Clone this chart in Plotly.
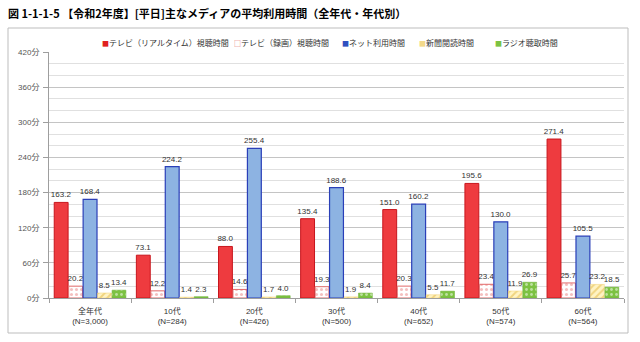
import plotly.graph_objects as go

# Categories (age groups with sample sizes)
categories = ["全年代<br>(N=3,000)", "10代<br>(N=284)", "20代<br>(N=426)", "30代<br>(N=500)",
              "40代<br>(N=652)", "50代<br>(N=574)", "60代<br>(N=564)"]

# Average minutes per weekday
tv_realtime = [163.2, 73.1, 88.0, 135.4, 151.0, 195.6, 271.4]
tv_recorded = [20.2, 12.2, 14.6, 19.3, 20.3, 23.4, 25.7]
internet = [168.4, 224.2, 255.4, 188.6, 160.2, 130.0, 105.5]
newspaper = [8.5, 1.4, 1.7, 1.9, 5.5, 11.9, 23.2]
radio = [13.4, 2.3, 4.0, 8.4, 11.7, 26.9, 18.5]

series_names = ["テレビ（リアルタイム）視聴時間", "テレビ（録画）視聴時間", "ネット利用時間",
                "新聞閲読時間", "ラジオ聴取時間"]

y_ticks = [0, 60, 120, 180, 240, 300, 360, 420]
y_tick_labels = [f"{v}分" for v in y_ticks]

FONT = "Liberation Sans, Arial, Noto Sans CJK JP, sans-serif"
JP_FONT = "Noto Sans CJK JP, sans-serif"

W, H = 640, 342
ML, MR, MT, MB = 49, 16, 52, 44
PW, PH = W - ML - MR, H - MT - MB


def px_x(p):
    return (p - ML) / PW


def px_y(p):
    return (H - MB - p) / PH


styles = [
    dict(color="#ee3b3f", line=dict(color="#c8161d", width=1)),
    dict(color="#ffffff", line=dict(color="#e26a6a", width=1),
         pattern=dict(shape=".", fgcolor="#e88080", bgcolor="#ffffff", size=5, solidity=0.3)),
    dict(color="#8db3e2", line=dict(color="#2a3fb8", width=1.2)),
    dict(color="#fbe49a", line=dict(color="#f0d070", width=0.5),
         pattern=dict(shape="/", fgcolor="#e2b53a", bgcolor="#fff3c4", size=5, solidity=0.4)),
    dict(color="#7cc242", line=dict(color="#6aae35", width=0.5),
         pattern=dict(shape=".", fgcolor="#ffffff", bgcolor="#7cc242", size=5, solidity=0.25)),
]

values = [tv_realtime, tv_recorded, internet, newspaper, radio]

fig = go.Figure()
for name, vals, st in zip(series_names, values, styles):
    fig.add_trace(go.Bar(
        x=categories, y=vals, name=name, marker=st,
        texttemplate="%{y:.1f}", textposition="outside", constraintext="none",
        textfont=dict(family=FONT, size=8, color="#333333"),
        cliponaxis=False, showlegend=False,
    ))

# Legend row built from the series names
legend_x = [100, 232, 340, 417, 493]
legend_marks = [("■", "#e02020"), ("□", "#e06060"), ("■", "#3050c0"), ("■", "#f3d98a"), ("■", "#7cc242")]
annotations = []
for name, xp, (ch, col) in zip(series_names, legend_x, legend_marks):
    annotations.append(dict(
        x=px_x(xp), y=px_y(43), xref="paper", yref="paper", xanchor="left", yanchor="middle",
        text=f"<span style='color:{col};font-size:7px'>{ch}</span>{name}",
        showarrow=False, font=dict(family=JP_FONT, size=8, color="#333333"),
    ))

annotations.append(dict(
    x=px_x(6), y=px_y(13), xref="paper", yref="paper", xanchor="left", yanchor="middle",
    text="<b>図 1-1-1-5 【令和2年度】[平日]主なメディアの平均利用時間（全年代・年代別）</b>",
    showarrow=False, font=dict(family=JP_FONT, size=11, color="#000000"),
))

shapes = [dict(type="rect", xref="paper", yref="paper",
               x0=px_x(8), x1=px_x(628), y0=px_y(333), y1=px_y(28),
               line=dict(color="#bdbdbd", width=1), fillcolor="rgba(0,0,0,0)", layer="below")]

fig.update_layout(
    width=W, height=H,
    margin=dict(l=ML, r=MR, t=MT, b=MB, pad=0),
    paper_bgcolor="white", plot_bgcolor="white",
    barmode="group", bargap=0.12, bargroupgap=0.04,
    annotations=annotations, shapes=shapes,
    font=dict(family=FONT, size=8, color="#444444"),
    xaxis=dict(
        type="category", showline=True, linecolor="#9e9e9e", linewidth=1,
        ticks="outside", tickson="boundaries", ticklen=4, tickcolor="#9e9e9e",
        ticklabelstandoff=5,
        tickfont=dict(family=FONT, size=8, color="#333333"), showgrid=False,
    ),
    yaxis=dict(
        range=[0, 420], tickvals=y_ticks, ticktext=y_tick_labels,
        showline=True, linecolor="#9e9e9e", linewidth=1,
        ticks="outside", ticklen=5, tickcolor="#9e9e9e",
        ticklabelstandoff=2,
        tickfont=dict(family=FONT, size=8, color="#555555"),
        showgrid=True, gridcolor="#c4c4c4", gridwidth=1,
        minor=dict(dtick=20, tick0=0, showgrid=True, gridcolor="#e0e0e0", gridwidth=1),
        zeroline=False,
    ),
)

fig.write_html("out.html")
